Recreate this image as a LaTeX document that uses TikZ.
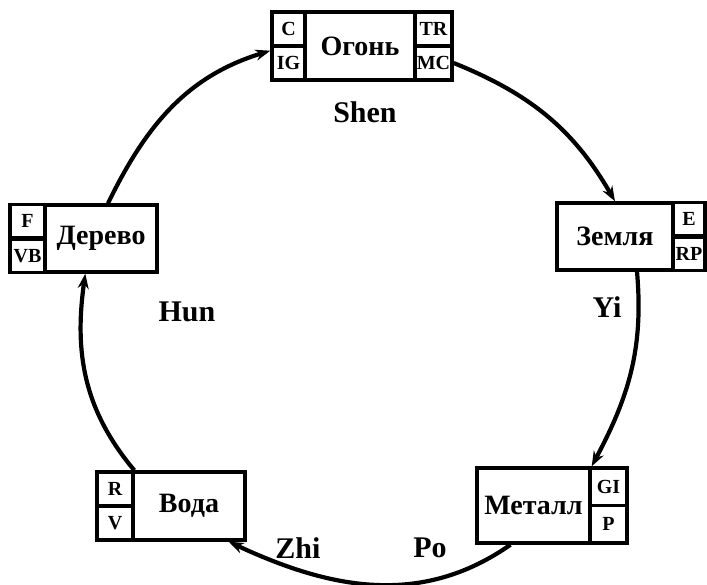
\documentclass[tikz,border=0pt]{standalone}
\usepackage{fontspec}
\setmainfont{Liberation Serif}
\usetikzlibrary{arrows.meta}
\begin{document}
\begin{tikzpicture}[x=1pt,y=1pt,
  cellbox/.style={draw, line width=3.4pt, inner sep=0pt, font=\bfseries\fontsize{20}{20}\selectfont},
  mainbox/.style={draw, line width=3.4pt, inner sep=0pt, font=\bfseries\fontsize{28}{28}\selectfont},
  conn/.style={line width=4.2pt, -{Stealth[length=15pt,width=11pt]}},
  lab/.style={font=\bfseries\fontsize{30}{30}\selectfont}]
\useasboundingbox (0,0) rectangle (707,584);

% Огонь
\node[mainbox, minimum width=110pt, minimum height=68pt] (ogon) at (360,538) {Огонь};
\node[cellbox, minimum width=33pt, minimum height=34pt] (c)  at (288.5,555) {C};
\node[cellbox, minimum width=33pt, minimum height=34pt] (ig) at (288.5,521) {IG};
\node[cellbox, minimum width=37pt, minimum height=34pt] (tr) at (433.5,555) {TR};
\node[cellbox, minimum width=37pt, minimum height=34pt] (mc) at (433.5,521) {MC};

% Земля
\node[mainbox, minimum width=116pt, minimum height=67pt] (zem) at (615,347.5) {Земля};
\node[cellbox, minimum width=32pt, minimum height=33.5pt] (e)  at (689,364.75) {E};
\node[cellbox, minimum width=32pt, minimum height=33.5pt] (rp) at (689,330.25) {RP};

% Металл
\node[mainbox, minimum width=113pt, minimum height=75pt] (met) at (533.5,78.5) {Металл};
\node[cellbox, minimum width=37pt, minimum height=37.5pt] (gi) at (608.5,97.25) {GI};
\node[cellbox, minimum width=37pt, minimum height=37.5pt] (p)  at (608.5,59.75) {P};

% Вода
\node[mainbox, minimum width=112pt, minimum height=68pt] (voda) at (189,78) {Вода};
\node[cellbox, minimum width=36pt, minimum height=34pt] (r) at (115,95) {R};
\node[cellbox, minimum width=36pt, minimum height=34pt] (v) at (115,61) {V};

% Дерево
\node[mainbox, minimum width=112pt, minimum height=67pt] (der) at (101,345.5) {Дерево};
\node[cellbox, minimum width=35pt, minimum height=33.5pt] (f)  at (27.5,362.75) {F};
\node[cellbox, minimum width=35pt, minimum height=33.5pt] (vb) at (27.5,328.25) {VB};

% labels
\node[lab] (shen) at (365,472) {Shen};
\node[lab] (hun) at (187,272) {Hun};
\node[lab] (yi) at (607,277) {Yi};
\node[lab] (zhi) at (298,36) {Zhi};
\node[lab] (po) at (430,36) {Po};

% connectors
\draw[conn] (mc.east) to[out=-22, in=120] (zem.north);
\draw[conn] ([xshift=22pt]zem.south) to[out=-85, in=62] (met.north east);
\draw[conn] ([xshift=-23pt]met.south) to[out=-145, in=-25] ([xshift=-18pt]voda.south east);
\draw[conn] ([xshift=3pt]voda.north west) to[out=130, in=262] ([xshift=42pt]der.south west);
\draw[conn] ([xshift=7pt]der.north) to[out=64, in=197] ([yshift=-3pt]c.south west);
\end{tikzpicture}
\end{document}
